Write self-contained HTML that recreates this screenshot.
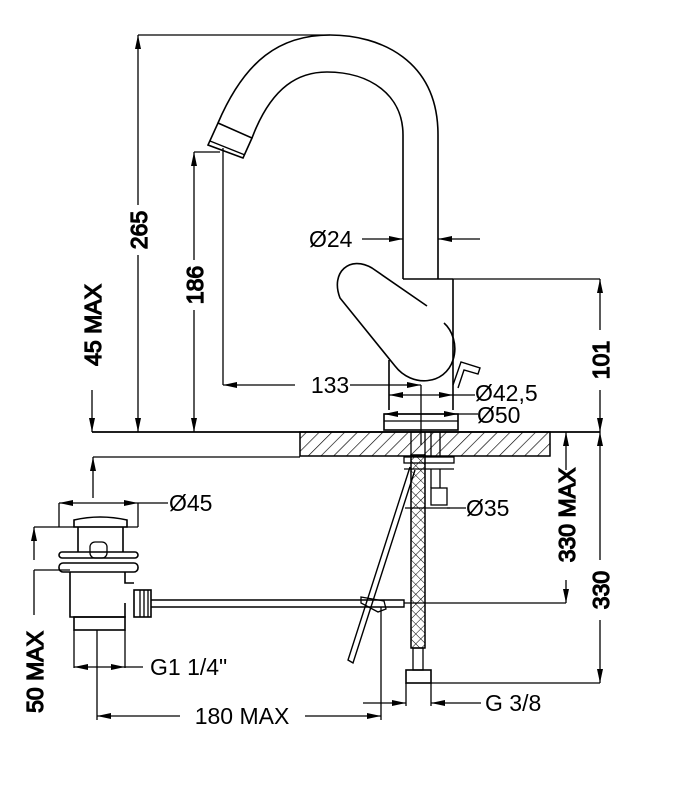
<!DOCTYPE html>
<html><head><meta charset="utf-8"><style>
html,body{margin:0;padding:0;background:#fff;}
svg{display:block;}
text{font-family:"Liberation Sans",Arial,sans-serif;font-size:23px;fill:#000;}
</style></head><body>
<svg width="689" height="800" viewBox="0 0 689 800" xmlns="http://www.w3.org/2000/svg">
<defs>
<marker id="a" viewBox="0 0 14 6" refX="14" refY="3" markerWidth="14" markerHeight="6" markerUnits="userSpaceOnUse" orient="auto"><path d="M0,0 L14,3 L0,6 Z" fill="#000"/></marker>
<pattern id="h" width="9" height="9" patternUnits="userSpaceOnUse" patternTransform="rotate(45)"><line x1="0" y1="0" x2="0" y2="9" stroke="#000" stroke-width="1.3"/></pattern>
<pattern id="x" width="7" height="7" patternUnits="userSpaceOnUse" patternTransform="rotate(45)"><path d="M0,0 H7 M0,0 V7" stroke="#000" stroke-width="1"/></pattern>
</defs>
<g fill="none" stroke="#000" stroke-width="1.3">
<line x1="92" y1="432" x2="600" y2="432" stroke-width="1.8"/>
<rect x="300" y="432" width="250" height="24" fill="url(#h)"/>
<rect x="300" y="432" width="250" height="24"/>
<line x1="93" y1="457" x2="300" y2="457"/>
<path d="M438,279 V135 C438,60 380,35 330,35 C280,35 245,60 218,123" stroke-width="1.6"/>
<path d="M403,279 V135 C403,95 370,72 327,72 C300,72 272,85 252,138" stroke-width="1.6"/>
<path d="M218,123 L252,138 L243,158 L208,145 Z" stroke-width="1.6"/>
<line x1="210" y1="141" x2="245" y2="155"/>
<path d="M453,279 H403 M453,279 V410 M389,360 V410" stroke-width="1.6"/>
<line x1="453" y1="279" x2="600" y2="279"/>
<path d="M427,306 L372,268 C350,255 330,272 340,298 L395,366 C412,388 445,385 453,360 C458,345 452,330 444,323" stroke-width="1.6"/>
<path d="M453,385 L461,362 L480,368 L478,374 L464,370 L458,388" stroke-width="1.4"/>
<rect x="384" y="414" width="74" height="16" stroke-width="1.6"/>
<line x1="384" y1="421" x2="458" y2="421"/>
<line x1="138" y1="35" x2="330" y2="35"/>
<line x1="138" y1="205" x2="138" y2="35" marker-end="url(#a)"/>
<line x1="138" y1="255" x2="138" y2="432" marker-end="url(#a)"/>
<text transform="translate(147,230) rotate(-90)" text-anchor="middle">265</text>
<line x1="92" y1="390" x2="92" y2="432" marker-end="url(#a)"/>
<text transform="translate(101,325) rotate(-90)" text-anchor="middle">45 MAX</text>
<line x1="93" y1="498" x2="93" y2="457" marker-end="url(#a)"/>
<line x1="194" y1="152" x2="220" y2="152"/>
<line x1="223" y1="148" x2="223" y2="385"/>
<line x1="194" y1="260" x2="194" y2="152" marker-end="url(#a)"/>
<line x1="194" y1="310" x2="194" y2="432" marker-end="url(#a)"/>
<text transform="translate(203,285) rotate(-90)" text-anchor="middle">186</text>
<line x1="295" y1="385" x2="223" y2="385" marker-end="url(#a)"/>
<line x1="350" y1="385" x2="421" y2="385" marker-end="url(#a)"/>
<line x1="421" y1="385" x2="421" y2="445"/>
<line x1="362" y1="239" x2="403" y2="239" marker-end="url(#a)"/>
<line x1="480" y1="239" x2="438" y2="239" marker-end="url(#a)"/>
<line x1="421" y1="395" x2="389" y2="395" marker-end="url(#a)"/>
<line x1="421" y1="395" x2="453" y2="395" marker-end="url(#a)"/>
<line x1="453" y1="395" x2="475" y2="395"/>
<line x1="421" y1="414" x2="384" y2="414" marker-end="url(#a)"/>
<line x1="421" y1="414" x2="458" y2="414" marker-end="url(#a)"/>
<line x1="458" y1="414" x2="478" y2="414"/>
<line x1="600" y1="330" x2="600" y2="279" marker-end="url(#a)"/>
<line x1="600" y1="390" x2="600" y2="432" marker-end="url(#a)"/>
<text transform="translate(609,360) rotate(-90)" text-anchor="middle">101</text>
<rect x="404" y="457" width="50" height="6"/>
<line x1="404" y1="469" x2="454" y2="469"/>
<line x1="411" y1="432" x2="411" y2="457"/><line x1="425" y1="432" x2="425" y2="457"/>
<line x1="431" y1="432" x2="431" y2="457"/><line x1="440" y1="432" x2="440" y2="457"/>
<rect x="411" y="455" width="14" height="193" fill="url(#x)"/>
<rect x="411" y="455" width="14" height="193"/>
<rect x="413" y="648" width="10" height="22"/>
<rect x="406" y="670" width="25" height="13" stroke-width="1.6"/>
<line x1="431" y1="469" x2="431" y2="488"/><line x1="440" y1="469" x2="440" y2="488"/>
<rect x="431" y="488" width="16" height="17"/>
<line x1="405" y1="508" x2="450" y2="508"/>
<line x1="447" y1="508" x2="466" y2="508"/>
<line x1="404" y1="603" x2="566" y2="603"/>
<line x1="566" y1="470" x2="566" y2="432" marker-end="url(#a)"/>
<line x1="566" y1="580" x2="566" y2="603" marker-end="url(#a)"/>
<text transform="translate(575,515) rotate(-90)" text-anchor="middle">330 MAX</text>
<line x1="431" y1="683" x2="600" y2="683"/>
<line x1="600" y1="560" x2="600" y2="432" marker-end="url(#a)"/>
<line x1="600" y1="620" x2="600" y2="683" marker-end="url(#a)"/>
<text transform="translate(609,590) rotate(-90)" text-anchor="middle">330</text>
<line x1="406" y1="683" x2="406" y2="706"/><line x1="431" y1="683" x2="431" y2="706"/>
<line x1="363" y1="703" x2="406" y2="703" marker-end="url(#a)"/>
<line x1="481" y1="703" x2="431" y2="703" marker-end="url(#a)"/>
<path d="M410,467 L348,660 L353,663 L415,470" stroke-width="1.4"/>
<path d="M74,527 L74,520 Q100,514 127,520 L127,527 Z" stroke-width="1.6"/>
<line x1="59" y1="527" x2="138" y2="527"/>
<path d="M78,527 V552 M123,527 V552" stroke-width="1.6"/>
<rect x="90" y="542" width="17" height="16" rx="5"/>
<rect x="59" y="552" width="79" height="6" rx="3" stroke-width="1.6"/>
<rect x="59" y="563" width="79" height="9" rx="4" stroke-width="1.6"/>
<path d="M70,572 V617 H125 V603 M125,572 V583 H134" stroke-width="1.6"/>
<rect x="134" y="590" width="17" height="27" stroke-width="1.6"/>
<path d="M140,590 V617 M144,590 V617 M148,590 V617"/>
<rect x="74" y="617" width="51" height="13" stroke-width="1.6"/>
<path d="M151,600 H404 V607 H151" stroke-width="1.4"/>
<path d="M361,597 L384,601 L386,609 L378,612 L361,603 Z"/>
<line x1="381" y1="607" x2="381" y2="720"/>
<line x1="59" y1="503" x2="59" y2="527"/><line x1="138" y1="503" x2="138" y2="527"/>
<line x1="98" y1="503" x2="59" y2="503" marker-end="url(#a)"/>
<line x1="98" y1="503" x2="138" y2="503" marker-end="url(#a)"/>
<line x1="138" y1="503" x2="168" y2="503"/>
<line x1="34" y1="527" x2="59" y2="527"/>
<line x1="34" y1="570" x2="70" y2="570"/>
<line x1="34" y1="560" x2="34" y2="527" marker-end="url(#a)"/>
<line x1="34" y1="570" x2="34" y2="615"/>
<text transform="translate(43,672) rotate(-90)" text-anchor="middle">50 MAX</text>
<line x1="74" y1="630" x2="74" y2="668"/><line x1="125" y1="630" x2="125" y2="668"/>
<line x1="97" y1="667" x2="74" y2="667" marker-end="url(#a)"/>
<line x1="97" y1="667" x2="125" y2="667" marker-end="url(#a)"/>
<line x1="125" y1="667" x2="143" y2="667"/>
<line x1="97" y1="630" x2="97" y2="720"/>
<line x1="180" y1="716" x2="97" y2="716" marker-end="url(#a)"/>
<line x1="305" y1="716" x2="381" y2="716" marker-end="url(#a)"/>
</g>
<text x="309" y="247">Ø24</text>
<text x="330" y="393" text-anchor="middle">133</text>
<text x="475" y="401">Ø42,5</text>
<text x="477" y="423">Ø50</text>
<text x="169" y="511">Ø45</text>
<text x="466" y="516">Ø35</text>
<text x="150" y="675">G1 1/4"</text>
<text x="242" y="724" text-anchor="middle">180 MAX</text>
<text x="485" y="711">G 3/8</text>
</svg>
</body></html>
